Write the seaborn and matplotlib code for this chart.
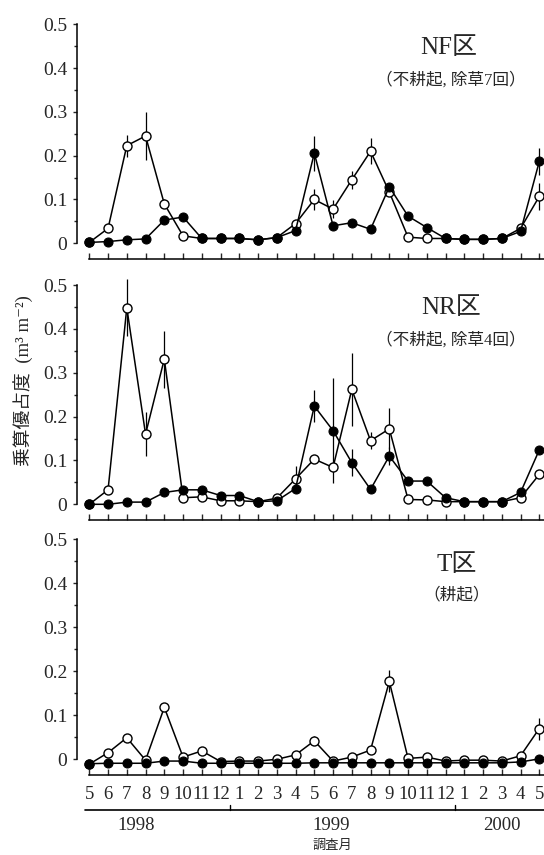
import numpy as np
import matplotlib
matplotlib.use('Agg')
import matplotlib.pyplot as plt
import matplotlib.transforms as mtransforms
import seaborn as sns

# survey months, May 1998 - May 2000
months = [5, 6, 7, 8, 9, 10, 11, 12, 1, 2, 3, 4, 5, 6, 7, 8, 9, 10, 11, 12, 1, 2, 3, 4, 5]
years = ['1998', '1999', '2000']
year_pos = [2.5, 12.9, 22.0]
year_breaks = [7.5, 19.5]

# NF plot (open / filled circles) and error bars
nf_open = [0.002, 0.034, 0.223, 0.245, 0.090, 0.017, 0.011, 0.011, 0.011, 0.008, 0.013, 0.045, 0.100,
           0.078, 0.145, 0.210, 0.117, 0.014, 0.011, 0.011, 0.009, 0.009, 0.011, 0.034, 0.107]
nf_filled = [0.002, 0.004, 0.008, 0.010, 0.053, 0.060, 0.011, 0.011, 0.011, 0.008, 0.013, 0.029, 0.206,
             0.040, 0.047, 0.032, 0.129, 0.062, 0.036, 0.011, 0.009, 0.009, 0.011, 0.027, 0.187]
nf_open_err = [0, 0, 0.025, 0.055, 0.01, 0, 0, 0, 0, 0, 0, 0, 0.025,
               0.02, 0.02, 0.03, 0, 0, 0, 0, 0, 0, 0, 0, 0.03]
nf_filled_err = [0, 0, 0, 0, 0.01, 0, 0, 0, 0, 0, 0, 0, 0.04,
                 0, 0, 0, 0, 0, 0, 0, 0, 0, 0, 0, 0.03]

# NR plot
nr_open = [0.000, 0.033, 0.448, 0.160, 0.331, 0.015, 0.017, 0.008, 0.008, 0.006, 0.014, 0.058, 0.103,
           0.084, 0.262, 0.145, 0.172, 0.011, 0.010, 0.006, 0.006, 0.006, 0.006, 0.015, 0.068]
nr_filled = [0.000, 0.000, 0.005, 0.005, 0.027, 0.033, 0.033, 0.020, 0.020, 0.006, 0.008, 0.036, 0.224,
             0.168, 0.095, 0.034, 0.110, 0.053, 0.053, 0.015, 0.006, 0.006, 0.006, 0.027, 0.124]
nr_open_err = [0, 0, 0.065, 0.05, 0.065, 0, 0, 0, 0, 0, 0, 0.03, 0,
               0, 0.083, 0.02, 0.047, 0, 0, 0, 0, 0, 0, 0, 0]
nr_filled_err = [0, 0, 0, 0, 0.005, 0, 0, 0, 0, 0, 0, 0.01, 0.036,
                 0.12, 0.03, 0, 0.02, 0, 0, 0, 0, 0, 0, 0, 0]

# T plot
t_open = [-0.011, 0.015, 0.049, -0.002, 0.118, 0.005, 0.019, -0.005, -0.004, -0.004, 0.000, 0.010, 0.042,
          -0.004, 0.005, 0.021, 0.177, 0.002, 0.005, -0.004, -0.002, -0.002, -0.004, 0.008, 0.070]
t_filled = [-0.010, -0.009, -0.009, -0.009, -0.004, -0.004, -0.009, -0.009, -0.009, -0.009, -0.009, -0.009, -0.008,
            -0.008, -0.008, -0.008, -0.008, -0.008, -0.008, -0.008, -0.008, -0.008, -0.008, -0.006, 0.001]
t_open_err = [0, 0, 0, 0, 0, 0, 0, 0, 0, 0, 0, 0, 0.01,
              0, 0, 0, 0.025, 0, 0, 0, 0, 0, 0, 0, 0.025]
t_filled_err = [0] * 25

panel_names = ['NF区', 'NR区', 'T区']
panel_notes = ['（不耕起, 除草7回）', '（不耕起, 除草4回）', '（耕起）']

sns.set_style('ticks')
plt.rcParams['font.family'] = ['Liberation Serif', 'Noto Sans CJK JP', 'DejaVu Sans']

W, H = 544, 855
fig = plt.figure(figsize=(W / 100, H / 100), dpi=100)

x = np.arange(len(months))
left_px, right_px = 77, 544
x0_px, step_px = 89.3, 18.75
xlim = ((left_px - x0_px) / step_px, (right_px - x0_px) / step_px)

# (top of axes px, bottom of axes px)
panels = [(24.3, 259.3), (285.0, 520.3), (539.3, 775.3)]
series = [(nf_open, nf_open_err, nf_filled, nf_filled_err),
          (nr_open, nr_open_err, nr_filled, nr_filled_err),
          (t_open, t_open_err, t_filled, t_filled_err)]
title_pos = [(0.825, 0.944, 0.829, 0.906), (0.829, 0.640, 0.829, 0.602), (0.840, 0.339, 0.840, 0.304)]

axes = []
for i, ((top, bot), (op, ope, fi, fie)) in enumerate(zip(panels, series)):
    ax = fig.add_axes([left_px / W, 1 - bot / H, (right_px - left_px) / W, (bot - top) / H])
    axes.append(ax)
    # bottom of axes sits 16px below zero
    ybot = -16 / ((bot - top - 16) / 0.5)
    ax.set_ylim(ybot, 0.5)
    ax.set_xlim(*xlim)

    ax.errorbar(x, op, yerr=ope, fmt='none', ecolor='black', elinewidth=0.9, capsize=0, clip_on=False)
    ax.errorbar(x, fi, yerr=fie, fmt='none', ecolor='black', elinewidth=0.9, capsize=0, clip_on=False)
    sns.lineplot(x=x, y=op, ax=ax, color='black', linewidth=1.1, marker='o', markersize=6.5,
                 markerfacecolor='white', markeredgecolor='black', markeredgewidth=1.0, clip_on=False)
    sns.lineplot(x=x, y=fi, ax=ax, color='black', linewidth=1.1, marker='o', markersize=6.5,
                 markerfacecolor='black', markeredgecolor='black', clip_on=False)

    sns.despine(ax=ax, top=True, right=True)
    ax.spines['left'].set_bounds(0, 0.5)
    ax.spines['bottom'].set_bounds(0, xlim[1])
    for s in ['left', 'bottom']:
        ax.spines[s].set_linewidth(1.1)
        ax.spines[s].set_color('black')

    ax.set_yticks([0, 0.1, 0.2, 0.3, 0.4, 0.5])
    ax.set_yticklabels(['0', '0.1', '0.2', '0.3', '0.4', '0.5'])
    ax.set_yticks(np.arange(0.05, 0.5, 0.1), minor=True)
    ax.tick_params(axis='y', which='major', direction='out', length=3, width=1, pad=4, labelsize=14)
    ax.tick_params(axis='y', which='minor', direction='out', length=2.5, width=1)

    ax.set_xticks(x)
    ax.tick_params(axis='x', which='major', direction='in', length=4, width=1, pad=8, labelsize=13.5)
    ax.tick_params(axis='x', which='minor', bottom=False)
    if i < 2:
        ax.set_xticklabels([])
    else:
        ax.set_xticklabels([str(m) for m in months])
    ax.set_xlabel('')
    ax.set_ylabel('')
    ax.patch.set_alpha(0)

    tx, ty, sx, sy = title_pos[i]
    fig.text(tx, ty, panel_names[i], ha='center', va='center', fontsize=18)
    fig.text(sx, sy, panel_notes[i], ha='center', va='center', fontsize=12)

# year bracket line under the month labels
ax3 = axes[2]
trans = mtransforms.blended_transform_factory(ax3.transData, fig.transFigure)
y_line = 1 - 810 / H
ax3.plot([-0.22, xlim[1]], [y_line, y_line], transform=trans, color='black', linewidth=1.2, clip_on=False)
for b in year_breaks:
    ax3.plot([b, b], [y_line, y_line + 5 / H], transform=trans, color='black', linewidth=1, clip_on=False)
for yr, p in zip(years, year_pos):
    ax3.text(p, 1 - 825 / H, yr, transform=trans, ha='center', va='center', fontsize=13.5)
ax3.text(12.95, 1 - 845 / H, '調査月', transform=trans, ha='center', va='center', fontsize=9.5,
         family=['Noto Sans CJK JP', 'DejaVu Sans'])

fig.text(23 / W, 1 - 381 / H, '乗算優占度  (m³ m⁻²)', rotation=90, ha='center', va='center', fontsize=13.5)

fig.savefig('out.png', dpi=100, facecolor='white')
